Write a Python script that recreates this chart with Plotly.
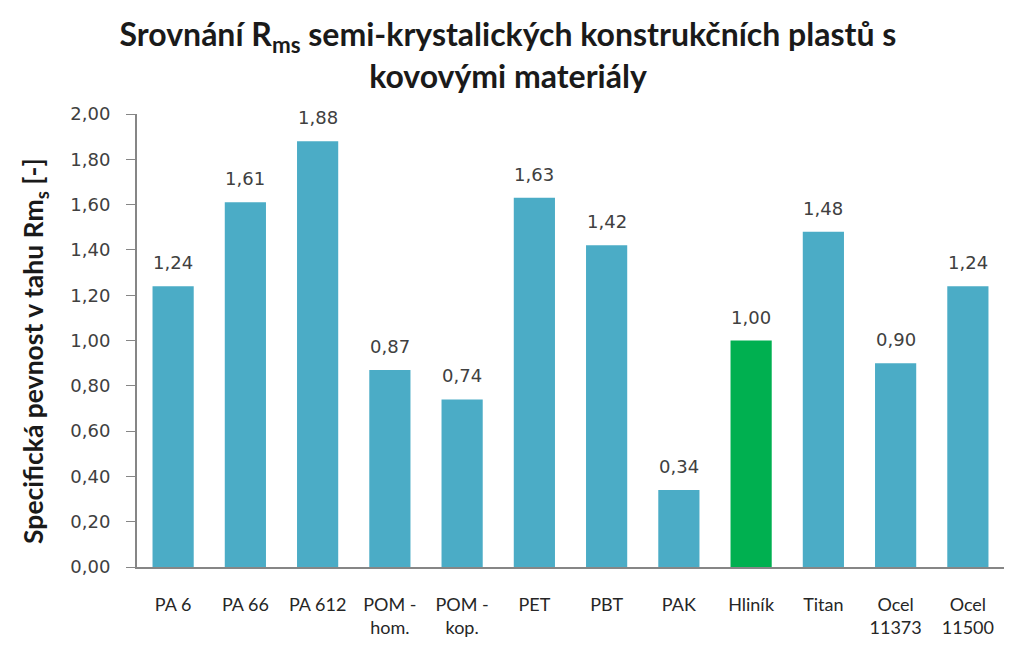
import plotly.graph_objects as go

# Materiály a hodnoty specifické pevnosti
materialy = ["PA 6", "PA 66", "PA 612", "POM -<br>hom.", "POM -<br>kop.", "PET",
             "PBT", "PAK", "Hliník", "Titan", "Ocel<br>11373", "Ocel<br>11500"]
hodnoty = [1.24, 1.61, 1.88, 0.87, 0.74, 1.63, 1.42, 0.34, 1.00, 1.48, 0.90, 1.24]

# Hliník je referenční materiál -> zeleně
barvy = ["#00B050" if m == "Hliník" else "#4BACC6" for m in materialy]

fig = go.Figure()
fig.add_trace(go.Bar(
    x=materialy,
    y=hodnoty,
    marker=dict(color=barvy, line=dict(width=0)),
    width=0.57,
    hoverinfo="x+y",
))

# popisky nad sloupci
for m, h in zip(materialy, hodnoty):
    fig.add_annotation(
        x=m, y=h,
        text=f"{h:.2f}".replace(".", ","),
        showarrow=False,
        yanchor="bottom",
        yshift=11,
        font=dict(family="DejaVu Sans", size=18, color="#404040"),
    )

# popis osy y jako otočená anotace (přesnější umístění)
fig.add_annotation(
    text="Specifická pevnost v tahu Rm<sub>s</sub> [-]",
    xref="paper", yref="paper",
    x=0, y=0.477,
    xanchor="center", yanchor="middle",
    xshift=-102,
    textangle=-90,
    showarrow=False,
    font=dict(family="Lato", size=26.5, color="#1a1a1a", weight="bold"),
)

# stránka má 8px okraj, proto je obrázek o něco menší
fig.update_layout(
    width=1006,
    height=649,
    paper_bgcolor="white",
    plot_bgcolor="white",
    separators=", ",
    showlegend=False,
    margin=dict(l=129, r=10, t=106, b=90),
    title=dict(
        text="Srovnání R<sub>ms</sub> semi-krystalických konstrukčních plastů s<br>kovovými materiály",
        x=0.497, xref="container", xanchor="center",
        y=0.941, yref="container", yanchor="middle",
        font=dict(family="Lato", size=32, color="#1a1a1a", weight="bold"),
    ),
    font=dict(family="Lato", color="#262626"),
)

fig.update_yaxes(
    range=[0, 2.0],
    dtick=0.2,
    tickformat=".2f",
    showgrid=False,
    zeroline=False,
    showline=True,
    linecolor="#868686",
    linewidth=2,
    ticks="outside",
    ticklen=9,
    tickcolor="#868686",
    tickwidth=1,
    ticklabelstandoff=12,
    tickfont=dict(family="DejaVu Sans", size=18, color="#404040"),
)

fig.update_xaxes(
    showgrid=False,
    showline=True,
    linecolor="#868686",
    linewidth=2,
    ticks="",
    ticklabelstandoff=20,
    tickfont=dict(family="Lato", size=18, color="#262626"),
)

fig.write_html("out.html")
